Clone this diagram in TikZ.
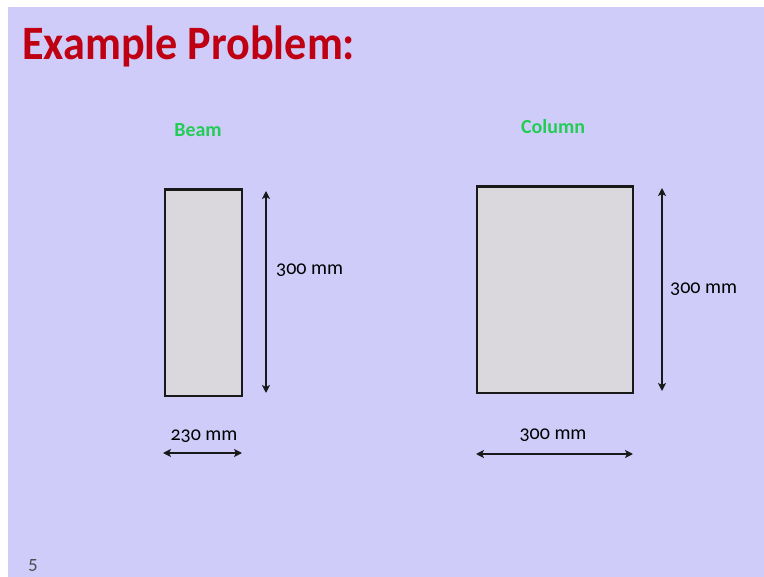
\documentclass[tikz,border=0pt]{standalone}
\usepackage{fontspec}
\setmainfont{Carlito}[Numbers=OldStyle]
\newfontfamily\titlefont{Carlito}[FakeStretch=0.92]
\usetikzlibrary{arrows.meta}
\definecolor{lav}{HTML}{D0CCFA}
\definecolor{titlered}{HTML}{BE0012}
\definecolor{lblgreen}{HTML}{22CC55}
\definecolor{secgrey}{HTML}{DAD8DC}
\tikzset{
  section/.style={draw=black!90, line width=1.6pt, fill=secgrey},
  dim/.style={line width=1.6pt, black!90, {Stealth[length=8pt,width=8pt,inset=2pt]}-{Stealth[length=8pt,width=8pt,inset=2pt]}},
  dimlbl/.style={font=\fontsize{20}{20}\selectfont, inner sep=0pt, text=black},
  caption/.style={font=\fontsize{20}{20}\selectfont\bfseries, text=lblgreen, inner sep=0pt}
}
\begin{document}
\begin{tikzpicture}[x=1pt,y=-1pt]
\useasboundingbox (0,0) rectangle (764,577);
\fill[white] (0,0) rectangle (764,577);
\fill[lav] (8,7) rectangle (764,577);
\node[anchor=base west, inner sep=0pt, text=titlered, font=\fontsize{48}{48}\titlefont\bfseries] (title) at (22,60) {Example Problem:};
% Beam
\node[caption] (beamlbl) at (198,130) {Beam};
\node[section, minimum width=77pt, minimum height=206pt, inner sep=0pt, anchor=north west] (beam) at (164,189) {};
\draw[line width=2.6pt, black!90] (beam.north west) -- (beam.north east);
\coordinate (bvt) at (266,191);
\coordinate (bvb) at (266,393);
\draw[dim] (bvb) -- (bvt);
\node[dimlbl, anchor=west] (bvl) at (276,270) {300 mm};
\coordinate (bhl) at (163,453);
\coordinate (bhr) at (242,453);
\draw[dim] (bhl) -- (bhr);
\node[dimlbl] (bhlbl) at (204,436) {230 mm};
% Column
\node[caption] (collbl) at (553,127) {Column};
\node[section, minimum width=156pt, minimum height=206pt, inner sep=0pt, anchor=north west] (col) at (476,186) {};
\draw[line width=2.6pt, black!90] (col.north west) -- (col.north east);
\coordinate (cvt) at (662,188);
\coordinate (cvb) at (662,391);
\draw[dim] (cvb) -- (cvt);
\node[dimlbl, anchor=west] (cvl) at (670,289) {300 mm};
\coordinate (chl) at (476,454);
\coordinate (chr) at (633,454);
\draw[dim] (chl) -- (chr);
\node[dimlbl] (chlbl) at (553,435) {300 mm};
% page number
\node[font=\fontsize{19}{19}\selectfont, text=black!70, inner sep=0pt] (pg) at (33,565) {5};
\end{tikzpicture}
\end{document}
